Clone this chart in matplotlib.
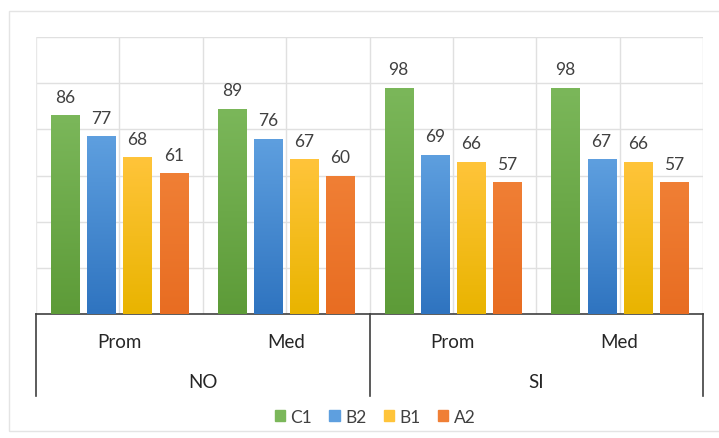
import matplotlib.pyplot as plt
import numpy as np
from matplotlib.colors import LinearSegmentedColormap
from matplotlib.patches import Rectangle

groups = ['NO', 'SI']
subgroups = ['Prom', 'Med', 'Prom', 'Med']
levels = ['C1', 'B2', 'B1', 'A2']
c1 = [86, 89, 98, 98]
b2 = [77, 76, 69, 67]
b1 = [68, 67, 66, 66]
a2 = [61, 60, 57, 57]

# top colour, bottom colour for each series
shades = [('#7bb75a', '#5d9b38'),
          ('#5e9fdf', '#2f74c0'),
          ('#ffc43a', '#e9b400'),
          ('#f07f35', '#e86d22')]

plt.rcParams['font.family'] = ['Lato', 'DejaVu Sans']
fig = plt.figure(figsize=(7.19, 4.39), dpi=100)
ax = fig.add_axes([36/719, 1-315/439, (703-36)/719, (315-38)/439])

# faint outer frame
fig.patches.append(Rectangle((9/719, 1-432/439), 720/719, 420/439,
                             transform=fig.transFigure, fill=False,
                             edgecolor='#e4e4e4', lw=1))

x = np.arange(len(subgroups))
width = 0.168
step = 0.217
series = [c1, b2, b1, a2]

for i, vals in enumerate(series):
    pos = x + (i - 1.5) * step
    bars = ax.bar(pos, vals, width, color=shades[i][0], zorder=2, label=levels[i])
    cmap = LinearSegmentedColormap.from_list('g%d' % i, [shades[i][1], shades[i][0]])
    for b, v in zip(bars, vals):
        grad = np.linspace(0, 1, 100).reshape(-1, 1)
        im = ax.imshow(grad, cmap=cmap, origin='lower', aspect='auto', zorder=3,
                       extent=[b.get_x(), b.get_x() + b.get_width(), 0, v])
        im.set_clip_path(b)
        ax.text(b.get_x() + b.get_width() / 2, v + 4.5, str(v), ha='center', va='bottom',
                fontsize=12.5, color='#404040')

ax.set_xlim(-0.5, 3.5)
ax.set_ylim(0, 120)

for yv in range(20, 121, 20):
    ax.axhline(yv, color='#e0e0e0', lw=1, zorder=0)
for xv in np.arange(0, 3.6, 0.5):
    ax.axvline(xv, color='#e0e0e0', lw=1, zorder=0)
ax.axvline(-0.5, color='#e8e8e8', lw=1, zorder=0)

for s in ['top', 'right', 'left']:
    ax.spines[s].set_visible(False)
ax.spines['bottom'].set_color('#404040')
ax.spines['bottom'].set_linewidth(1.2)
ax.set_xticks([])
ax.set_yticks([])

# multi-level category axis
trans = ax.get_xaxis_transform()
for xv in [-0.5, 1.5, 3.5]:
    ax.plot([xv, xv], [0, -82/277], transform=trans, color='#404040', lw=1.2, clip_on=False)
for xi, lab in zip(x, subgroups):
    ax.text(xi, -28/277, lab, transform=trans, ha='center', va='center',
            fontsize=13.5, color='#262626')
for gi, lab in enumerate(groups):
    ax.text(0.5 + 2 * gi, -68/277, lab, transform=trans, ha='center', va='center',
            fontsize=13.5, color='#262626')

handles = [Rectangle((0, 0), 1, 1, color=shades[i][0]) for i in range(4)]
fig.legend(handles, levels, loc='center', bbox_to_anchor=(375/719, 1-418/439),
           ncol=4, frameon=False, fontsize=12.5, handlelength=0.6, handleheight=0.6,
           handletextpad=0.3, columnspacing=1.0, labelcolor='#404040')

fig.savefig('out.png', dpi=100)
